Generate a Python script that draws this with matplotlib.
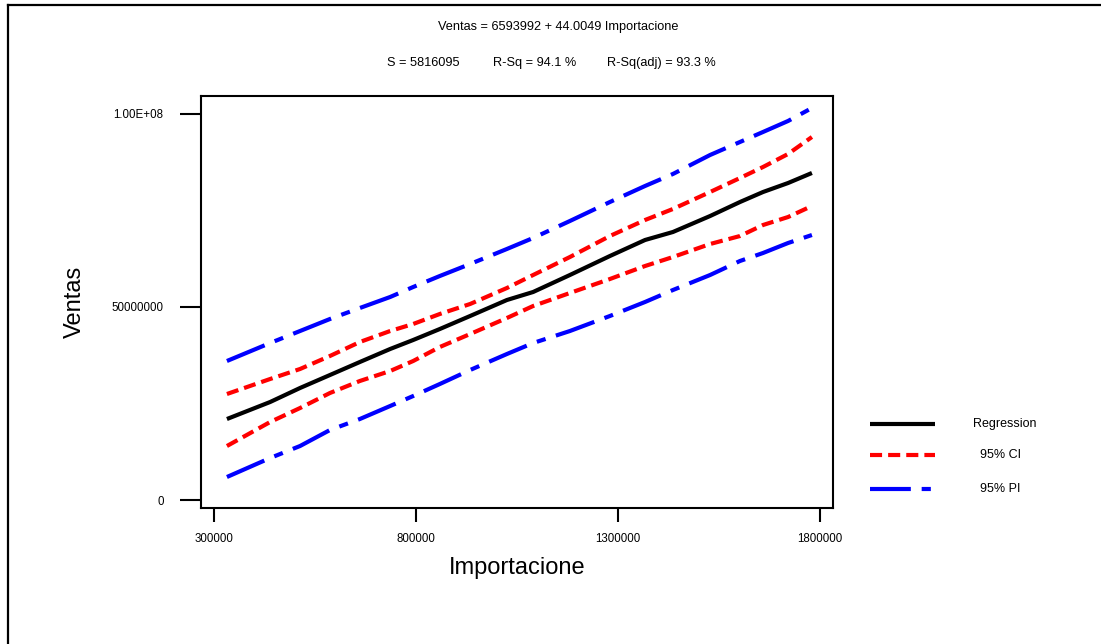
import matplotlib
matplotlib.use('Agg')
import matplotlib.pyplot as plt
from matplotlib.lines import Line2D

plt.rcParams['font.family'] = ['Liberation Sans', 'DejaVu Sans']

## Values (Ventas in millions)
importacione = [332000, 439000, 513000, 587000, 661000, 736000, 793000, 859000, 934000, 1025000,
                1090000, 1181000, 1280000, 1367000, 1436000, 1528000, 1602000, 1659000, 1721000, 1780000]
regression = [20.98, 25.39, 29.02, 32.38, 35.75, 39.12, 41.45, 44.30, 47.67, 51.81,
              53.89, 58.29, 63.21, 67.36, 69.43, 73.57, 77.20, 79.79, 82.12, 84.72]
ci_upper = [27.46, 31.35, 33.94, 37.31, 40.93, 43.78, 45.60, 48.19, 50.78, 54.92,
            58.29, 62.95, 68.39, 72.54, 75.39, 79.79, 83.42, 86.27, 89.64, 94.04]
ci_lower = [13.99, 20.21, 23.83, 27.72, 30.83, 33.42, 36.01, 39.64, 43.00, 47.15,
            50.26, 53.63, 57.25, 60.62, 62.95, 66.32, 68.39, 71.24, 73.31, 76.17]
pi_upper = [36.01, 40.67, 43.78, 46.89, 49.74, 52.59, 55.18, 58.03, 61.14, 65.03,
            67.88, 72.28, 77.20, 81.35, 84.46, 89.38, 92.75, 95.34, 98.19, 101.55]
pi_lower = [5.96, 10.88, 13.99, 18.13, 20.98, 24.35, 26.94, 30.05, 33.68, 37.82,
            40.67, 43.78, 47.67, 51.30, 54.40, 58.29, 61.92, 63.99, 66.58, 68.65]

x_ticks = [300000, 800000, 1300000, 1800000]
x_tick_labels = ['300000', '800000', '1300000', '1800000']
y_ticks = [0, 50000000, 100000000]
y_tick_labels = ['0', '50000000', '1.00E+08']

legend_labels = ['Regression', '95% CI', '95% PI']

W, H = 1101, 644
fig = plt.figure(figsize=(W / 100, H / 100), dpi=100)
ax = fig.add_axes([201 / W, 1 - 508 / H, 632 / W, 412 / H])

ci_style = (0, (2.9, 1.45))
pi_style = (0, (9.8, 2.6, 2.2, 2.6))
lw = 3

def mil(v):
    return [a * 1e6 for a in v]

ax.plot(importacione, mil(pi_upper), color='#0000ff', lw=lw, ls=pi_style, solid_capstyle='butt', dash_capstyle='butt')
ax.plot(importacione, mil(pi_lower), color='#0000ff', lw=lw, ls=pi_style, dash_capstyle='butt')
ax.plot(importacione, mil(ci_upper), color='#ff0000', lw=lw, ls=ci_style, dash_capstyle='butt')
ax.plot(importacione, mil(ci_lower), color='#ff0000', lw=lw, ls=ci_style, dash_capstyle='butt')
ax.plot(importacione, mil(regression), color='black', lw=lw, solid_capstyle='butt')

ax.set_xlim(267822, 1832178)
ax.set_ylim(-2.07e6, 104.66e6)
ax.set_xticks(x_ticks, x_tick_labels)
ax.set_yticks(y_ticks, y_tick_labels)
ax.tick_params(axis='x', length=10, width=1.5, pad=8, labelsize=8.3)
ax.tick_params(axis='y', length=15, width=1.5, pad=12, labelsize=8.3)
for s in ax.spines.values():
    s.set_linewidth(1.5)

ax.set_xlabel('Importacione', fontsize=17)
ax.xaxis.label.set_va('center')
ax.xaxis.set_label_coords(0.5, -0.1456)
ax.set_ylabel('Ventas', fontsize=17)
ax.yaxis.label.set_va('center')
ax.yaxis.set_label_coords(-0.1994, 0.5)

# header text
fig.text(558 / W, 1 - 27 / H, 'Ventas = 6593992 + 44.0049 Importacione',
         ha='center', va='center', fontsize=9.2)
fig.text(387 / W, 1 - 63 / H, 'S = 5816095', ha='left', va='center', fontsize=9.2)
fig.text(493 / W, 1 - 63 / H, 'R-Sq = 94.1 %', ha='left', va='center', fontsize=9.2)
fig.text(607 / W, 1 - 63 / H, 'R-Sq(adj) = 93.3 %', ha='left', va='center', fontsize=9.2)

# legend drawn by hand, Minitab style
legend_rows = [(424, 'black', '-', 935, 973),
               (455, '#ff0000', ci_style, 935, 980),
               (489, '#0000ff', pi_style, 931, 980)]
for (yp, col, st, xend, xt), lab in zip(legend_rows, legend_labels):
    fig.add_artist(Line2D([870 / W, xend / W], [1 - yp / H, 1 - yp / H], transform=fig.transFigure,
                          color=col, lw=lw, ls=st, solid_capstyle='butt', dash_capstyle='butt'))
    fig.text(xt / W, 1 - yp / H, lab, ha='left', va='center', fontsize=9)

# frame around the page (left and top only)
fig.add_artist(Line2D([8 / W, 8 / W], [0, 1 - 5 / H], transform=fig.transFigure, color='black', lw=1.6))
fig.add_artist(Line2D([8 / W, 1], [1 - 5 / H, 1 - 5 / H], transform=fig.transFigure, color='black', lw=1.6))

fig.savefig('out.png', dpi=100)
